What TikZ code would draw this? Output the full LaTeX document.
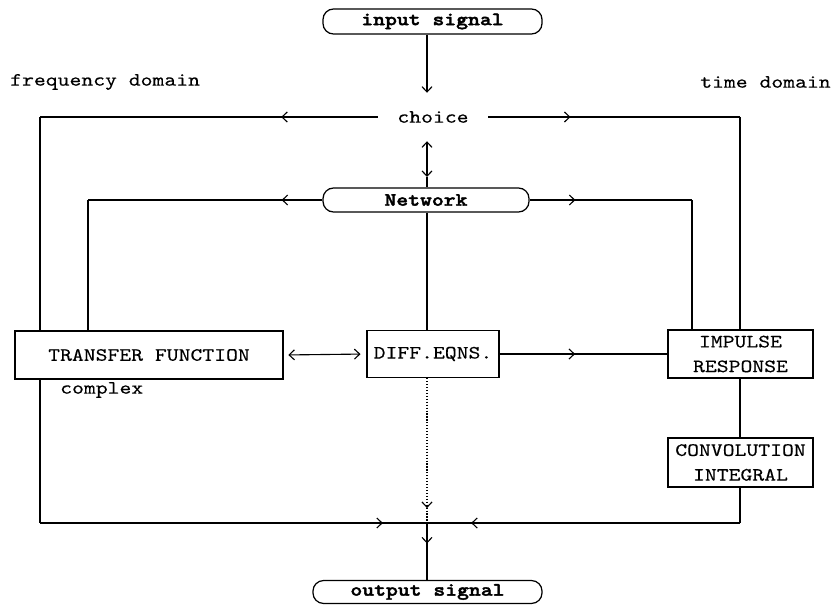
\documentclass[tikz,border=0pt]{standalone}
\usepackage{fontspec}
\setmainfont{lmmono10-regular}[Extension=.otf, BoldFont=lmmonolt10-bold, FakeStretch=1.2, FakeBold=0.25, BoldFeatures={FakeBold=2}]
\usetikzlibrary{arrows.meta,decorations.markings,backgrounds}
\tikzset{
  box/.style={draw, line width=1.05pt, fill=white, inner sep=0pt, align=center, font=\fontsize{16}{21}\selectfont},
  pill/.style={box, rounded corners=9pt, font=\fontsize{16}{21}\selectfont\bfseries},
  lab/.style={inner sep=0pt, font=\fontsize{16}{21}\selectfont},
  conn/.style={line width=0.95pt},
  marr/.style={conn, postaction={decorate}, decoration={markings, mark=at position #1 with {\arrow{>}}}},
  >={Straight Barb[length=4.5pt,width=8.5pt]}
}
\begin{document}
\begin{tikzpicture}[x=0.85pt,y=-0.85pt]
\useasboundingbox (0,0) rectangle (833,605);
% helper coordinates
\coordinate (spine) at (427,0);
\coordinate (fl) at (40,117);
\coordinate (bl) at (40,523);
\coordinate (bc) at (427,523);
\coordinate (fr) at (740,117);
\coordinate (br) at (740,523);
\coordinate (nl) at (88,200);
\coordinate (nr) at (692,200);
\coordinate (nd) at (427,177);
% nodes
\node[pill, minimum width=186.2pt, minimum height=21.3pt] (in) at (432.5,21.5) {input signal};
\node[lab, minimum width=93.5pt, minimum height=40.8pt] (choice) at (433,117) {choice};
\node[pill, minimum width=175.1pt, minimum height=20.4pt] (net) at (426,200) {Network};
\node[box, minimum width=227.8pt, minimum height=40.8pt] (tf) at (149,355) {TRANSFER FUNCTION};
\node[box, minimum width=112.2pt, minimum height=40pt] (diff) at (433,354) {DIFF.EQNS.};
\node[box, minimum width=123.3pt, minimum height=40.8pt] (imp) at (740.5,354) {IMPULSE\\RESPONSE};
\node[box, minimum width=123.3pt, minimum height=41.7pt] (conv) at (740.5,462.5) {CONVOLUTION\\INTEGRAL};
\node[pill, minimum width=194.7pt, minimum height=19.5pt] (out) at (427.5,592) {output signal};
\node[lab, anchor=west] (fd) at (10,82) {frequency domain};
\node[lab, anchor=west] (td) at (700,82) {time domain};
\node[lab, anchor=west] (cx) at (60,390) {complex};
% connectors
\begin{scope}[on background layer]
\draw[conn,->] (in.south -| spine) -- (choice.north -| spine);
\draw[marr=0.286] (choice.west) -- (fl);
\draw[conn] (fl) -- (bl);
\draw[marr=0.886] (bl) -- (bc);
\draw[marr=0.327] (choice.east) -- (fr);
\draw[conn] (fr) -- (conv.north -| fr);
\draw[conn] (conv.south -| fr) -- (br);
\draw[marr=0.859] (br) -- (bc);
\draw[conn,<->] (choice.south -| spine) -- (nd);
\draw[conn] (nd) -- (net.north -| spine);
\draw[marr=0.174] (net.west) -- (nl);
\draw[conn] (nl) -- (tf.north -| nl);
\draw[marr=0.282] (net.east) -- (nr);
\draw[conn] (nr) -- (imp.north -| nr);
\draw[conn] (net.south -| spine) -- (diff.north -| spine);
\draw[conn,<->,shorten <=4pt,shorten >=5pt] (tf.east) -- (diff.west);
\draw[marr=0.45] (diff.east) -- (imp.west);
\draw[marr=0.897, dash pattern=on 1pt off 1.5pt] (diff.south -| spine) -- (bc);
\draw[marr=0.36] (bc) -- (out.north -| spine);
\end{scope}
\end{tikzpicture}
\end{document}
